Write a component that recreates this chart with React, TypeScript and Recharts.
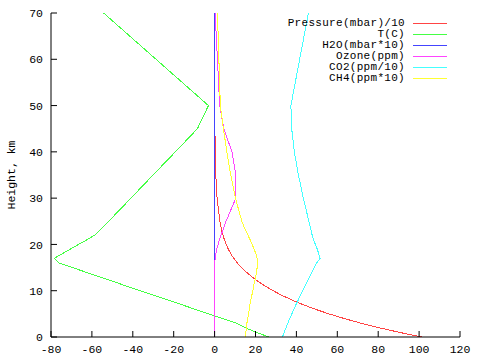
import React from "react";
import { Legend, Line, LineChart, XAxis, YAxis } from "recharts";

// profile levels (km) – 1 km steps to 25, then coarser
const HEIGHTS = [
  0, 1, 2, 3, 4, 5, 6, 7, 8, 9, 10, 11, 12, 13, 14, 15, 16, 17, 18, 19, 20, 21, 22, 23, 24, 25,
  30, 35, 40, 45, 50, 70,
];

const PRESSURE = [
  101.3, 90.4, 80.5, 71.5, 63.3, 55.9, 49.2, 43.2, 37.8, 32.9, 28.6, 24.7, 21.3, 18.2, 15.6, 13.2,
  11.1, 9.37, 7.89, 6.66, 5.65, 4.8, 4.09, 3.5, 3.0, 2.57, 1.22, 0.6, 0.3, 0.16, 0.09, 0.01,
];

const TEMP = [
  26.5, 20.5, 14.9, 10.5, 3.9, -2.9, -9.6, -16.2, -22.9, -29.6, -36.2, -43.1, -49.6, -56.2, -62.9,
  -69.5, -76.2, -78.4, -74.4, -70.5, -66.5, -62.5, -58.6, -56.2, -54.0, -51.8, -40.9, -30.1, -19.2,
  -8.4, -3.0, -54.3,
];

const H2O = [
  0.1, 0.1, 0.1, 0.1, 0.1, 0.1, 0.1, 0.1, 0.1, 0.1, 0.1, 0.1, 0.1, 0.1, 0.1, 0.1, 0.1, 0.1, 0.1,
  0.1, 0.1, 0.1, 0.1, 0.1, 0.1, 0.1, 0.1, 0.1, 0.1, 0.1, 0.1, 0.1,
];

const OZONE = [
  0.03, 0.03, 0.03, 0.04, 0.04, 0.04, 0.04, 0.04, 0.04, 0.05, 0.06, 0.07, 0.08, 0.09, 0.1, 0.13,
  0.14, 0.25, 0.6, 1.1, 1.7, 2.4, 3.1, 4.0, 4.8, 5.6, 10.4, 10.4, 8.5, 4.5, 2.5, 0.25,
];

const CO2 = [
  33.2, 34.0, 34.9, 35.8, 36.8, 37.8, 38.8, 39.8, 40.9, 42.0, 43.1, 44.2, 45.3, 46.5, 47.6, 48.7,
  49.9, 51.6, 50.9, 50.2, 49.3, 48.4, 47.7, 47.2, 46.6, 46.1, 43.4, 41.0, 39.0, 37.7, 37.3, 45.9,
];

const CH4 = [
  14.9, 15.3, 15.6, 15.8, 16.2, 16.6, 17.0, 17.3, 17.7, 18.2, 18.7, 19.1, 19.6, 20.1, 20.5, 20.8,
  20.9, 20.8, 20.2, 19.3, 18.4, 17.4, 16.3, 15.2, 14.2, 13.3, 10.2, 7.9, 6.0, 4.3, 2.8, 1.4,
];

const X_TICKS = [-80, -60, -40, -20, 0, 20, 40, 60, 80, 100, 120];
const Y_TICKS = [0, 10, 20, 30, 40, 50, 60, 70];

const SERIES = [
  { name: "Pressure(mbar)/10", values: PRESSURE, color: "#ff4444" },
  { name: "T(C)", values: TEMP, color: "#44ff44" },
  { name: "H2O(mbar*10)", values: H2O, color: "#4444ff" },
  { name: "Ozone(ppm)", values: OZONE, color: "#ff44ff" },
  { name: "CO2(ppm/10)", values: CO2, color: "#44ffff" },
  { name: "CH4(ppm*10)", values: CH4, color: "#ffff33" },
];

const FONT = "'Liberation Mono', 'DejaVu Sans Mono', monospace";
const TICK = { fontSize: 11.5, fill: "#000", fontFamily: FONT };

function HeightLabel(props: any) {
  const vb = props.viewBox || { x: 0, y: 13, height: 324 };
  const x = vb.x + 11;
  const y = vb.y + vb.height / 2;
  return (
    <text
      x={x}
      y={y}
      transform={`rotate(-90, ${x}, ${y})`}
      textAnchor="middle"
      dominantBaseline="central"
      fontSize={11.5}
      fontFamily={FONT}
      fill="#000"
    >
      Height, km
    </text>
  );
}

// gnuplot style key: label on the left, sample line on the right
function KeyBox() {
  return (
    <div style={{ fontFamily: FONT, fontSize: 11, letterSpacing: 0.3, lineHeight: "11px" }}>
      {SERIES.map((s) => (
        <div
          key={s.name}
          style={{ display: "flex", justifyContent: "flex-end", alignItems: "center", height: 11 }}
        >
          <span style={{ whiteSpace: "pre" }}>{s.name}</span>
          <span
            style={{ display: "inline-block", width: 34, height: 1, marginLeft: 8, background: s.color }}
          />
        </div>
      ))}
    </div>
  );
}

export default function App() {
  return (
    <div style={{ position: "absolute", left: 0, top: 0, background: "#fff" }}>
      <LineChart width={480} height={360} margin={{ top: 13, right: 20, bottom: 0, left: 0 }}>
        <XAxis
          dataKey="v"
          type="number"
          domain={[-80, 120]}
          ticks={X_TICKS}
          allowDataOverflow
          height={23}
          tickSize={-6}
          tickMargin={14}
          stroke="#000"
          tick={TICK}
        />
        <XAxis
          xAxisId="top"
          orientation="top"
          type="number"
          domain={[-80, 120]}
          ticks={X_TICKS}
          allowDataOverflow
          height={0}
          tickSize={-6}
          tick={false}
          stroke="#000"
        />
        <YAxis
          type="number"
          domain={[0, 70]}
          ticks={Y_TICKS}
          allowDataOverflow
          width={51}
          tickSize={-6}
          tickMargin={14}
          stroke="#000"
          tick={TICK}
          label={<HeightLabel />}
        />
        <YAxis
          yAxisId="right"
          orientation="right"
          type="number"
          domain={[0, 70]}
          ticks={Y_TICKS}
          allowDataOverflow
          width={0}
          tickSize={-6}
          tick={false}
          stroke="#000"
        />
        <Legend
          layout="horizontal"
          verticalAlign="middle"
          align="center"
          content={<KeyBox />}
          wrapperStyle={{ top: 18, left: 200, width: 247, height: 70 }}
        />
        {SERIES.map((s) => (
          <Line
            key={s.name}
            name={s.name}
            data={HEIGHTS.map((h, i) => ({ h, v: s.values[i] }))}
            dataKey="h"
            stroke={s.color}
            strokeWidth={1}
            shapeRendering="crispEdges"
            dot={false}
            activeDot={false}
            type="linear"
            isAnimationActive={false}
          />
        ))}
      </LineChart>
    </div>
  );
}
